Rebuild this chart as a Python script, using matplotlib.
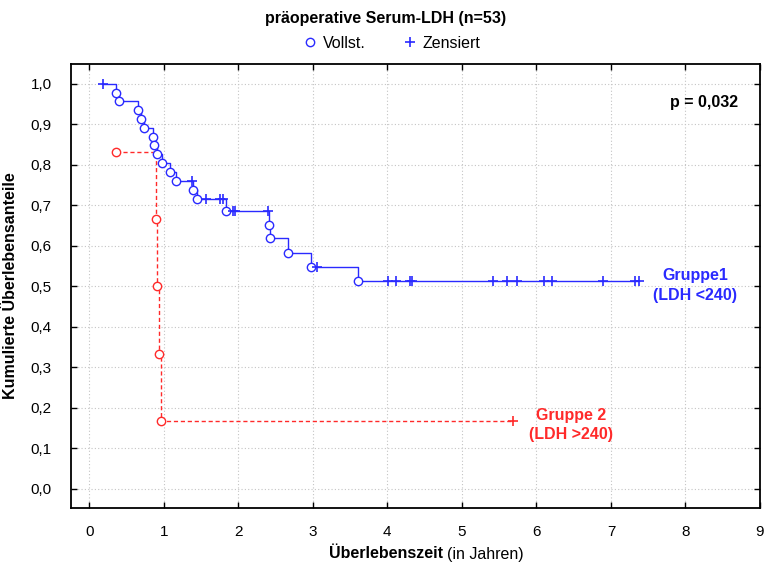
import matplotlib
matplotlib.use("Agg")
import matplotlib.pyplot as plt
from matplotlib.lines import Line2D

plt.rcParams['font.family'] = ['Liberation Sans', 'DejaVu Sans']

# Gruppe 1 (LDH <240): step points, 1 = event, 0 = censored
g1_time = [0.18, 0.36, 0.40, 0.66, 0.70, 0.74, 0.85, 0.87, 0.91, 0.97, 1.09, 1.16,
           1.38, 1.39, 1.45, 1.57, 1.75, 1.79, 1.83, 1.93, 1.96, 2.40, 2.41, 2.43,
           2.67, 2.98, 3.05, 3.60, 4.01, 4.12, 4.30, 4.33, 5.42, 5.61, 5.74, 6.10,
           6.21, 6.90, 7.32, 7.37]
g1_surv = [1.0, 0.978, 0.957, 0.935, 0.913, 0.891, 0.870, 0.848, 0.826, 0.804, 0.783, 0.761,
           0.761, 0.739, 0.716, 0.716, 0.716, 0.716, 0.687, 0.687, 0.687, 0.687, 0.652, 0.619,
           0.583, 0.548, 0.548, 0.513, 0.513, 0.513, 0.513, 0.513, 0.513, 0.513, 0.513, 0.513,
           0.513, 0.513, 0.513, 0.513]
g1_event = [0, 1, 1, 1, 1, 1, 1, 1, 1, 1, 1, 1,
            0, 1, 1, 0, 0, 0, 1, 0, 0, 0, 1, 1,
            1, 1, 0, 1, 0, 0, 0, 0, 0, 0, 0, 0,
            0, 0, 0, 0]

# Gruppe 2 (LDH >240)
g2_time = [0.36, 0.895, 0.91, 0.94, 0.96, 5.68]
g2_surv = [0.833, 0.667, 0.500, 0.333, 0.167, 0.167]
g2_event = [1, 1, 1, 1, 1, 0]

xticks = [0, 1, 2, 3, 4, 5, 6, 7, 8, 9]
yticks = [0.0, 0.1, 0.2, 0.3, 0.4, 0.5, 0.6, 0.7, 0.8, 0.9, 1.0]

blue = '#2a2aff'
red = '#ff2a2a'
fs = 11.5

fig = plt.figure(figsize=(7.64, 5.65), dpi=100)
ax = fig.add_axes([71 / 764, 1 - 508 / 565, 689 / 764, 444 / 565])

ax.plot(g1_time, g1_surv, drawstyle='steps-post', color=blue, lw=1.0, zorder=3)
ax.plot(g2_time, g2_surv, drawstyle='steps-post', color=red, lw=1.0, ls=(0, (3, 2)), zorder=3)

for t, s, e, c in [(g1_time, g1_surv, g1_event, blue), (g2_time, g2_surv, g2_event, red)]:
    ev_t = [a for a, f in zip(t, e) if f == 1]
    ev_s = [b for b, f in zip(s, e) if f == 1]
    ce_t = [a for a, f in zip(t, e) if f == 0]
    ce_s = [b for b, f in zip(s, e) if f == 0]
    ax.plot(ev_t, ev_s, ls='', marker='o', ms=6, mfc='white', mec=c, mew=1.0, zorder=4)
    ax.plot(ce_t, ce_s, ls='', marker='+', ms=7, mec=c, mew=1.2, zorder=4)

ax.set_xlim(-0.245, 9.0)
ax.set_ylim(-0.047, 1.049)
ax.set_xticks(xticks)
ax.set_yticks(yticks)
ax.set_xticklabels([str(v) for v in xticks])
ax.set_yticklabels([('%.1f' % v).replace('.', ',') for v in yticks])
ax.tick_params(direction='in', length=4, width=1, top=True, right=True,
               labelsize=11, colors='black')
ax.tick_params(axis='x', pad=12)
ax.tick_params(axis='y', pad=14)
ax.grid(True, ls=(0, (1, 2)), color='#c4c4c4', lw=0.8)
ax.set_axisbelow(True)
for sp in ax.spines.values():
    sp.set_linewidth(1.3)

ax.set_ylabel('Kumulierte Überlebensanteile', fontsize=fs, fontweight='bold', labelpad=9)

fig.text(443 / 764, 1 - 554 / 565, 'Überlebenszeit', ha='right', va='center',
         fontsize=fs, fontweight='bold')
fig.text(447 / 764, 1 - 554 / 565, '(in Jahren)', ha='left', va='center', fontsize=fs)

fig.text(386 / 764, 1 - 18 / 565, 'präoperative Serum-LDH (n=53)', ha='center', va='center',
         fontsize=fs, fontweight='bold')

handles = [Line2D([], [], ls='', marker='o', ms=6, mfc='white', mec=blue, mew=1.0),
           Line2D([], [], ls='', marker='+', ms=7, mec=blue, mew=1.2)]
fig.legend(handles, ['Vollst.', 'Zensiert'], loc='center', bbox_to_anchor=(392 / 764, 1 - 43 / 565),
           ncol=2, frameon=False, fontsize=fs, handlelength=0.8, handletextpad=0.4,
           columnspacing=2.4)

ax.text(8.25, 0.954, 'p = 0,032', ha='center', va='center',
        fontsize=fs, fontweight='bold')
ax.text(8.13, 0.503, 'Gruppe1\n(LDH <240)', ha='center', va='center', color=blue,
        fontsize=fs, fontweight='bold', linespacing=1.4)
ax.text(6.46, 0.158, 'Gruppe 2\n(LDH >240)', ha='center', va='center', color=red,
        fontsize=fs, fontweight='bold', linespacing=1.4)

fig.savefig('out.png', dpi=100)
